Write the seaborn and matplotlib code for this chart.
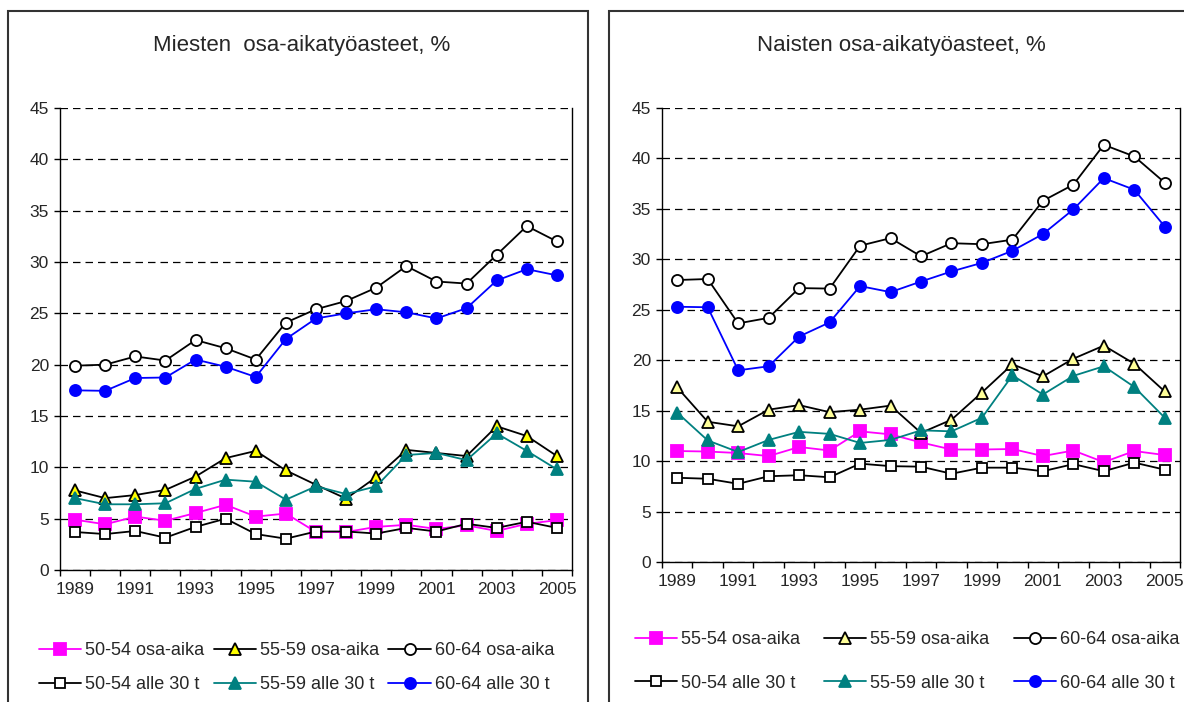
import seaborn as sns
import matplotlib.pyplot as plt
from matplotlib.patches import Rectangle
import pandas as pd

years = list(range(1989, 2006))

# miehet
m_50_osa = [4.9, 4.45, 5.2, 4.8, 5.55, 6.35, 5.2, 5.5, 3.7, 3.7, 4.2, 4.4, 4.0, 4.35, 3.8, 4.5, 4.85]
m_55_osa = [7.75, 7.0, 7.3, 7.8, 9.1, 10.9, 11.6, 9.7, 8.3, 6.95, 9.05, 11.7, 11.4, 11.1, 14.0, 13.05, 11.1]
m_60_osa = [19.9, 20.0, 20.8, 20.4, 22.4, 21.6, 20.5, 24.1, 25.4, 26.2, 27.5, 29.6, 28.1, 27.9, 30.7, 33.5, 32.0]
m_50_alle = [3.7, 3.5, 3.8, 3.15, 4.2, 5.0, 3.5, 3.05, 3.75, 3.75, 3.55, 4.1, 3.75, 4.5, 4.1, 4.7, 4.1]
m_55_alle = [7.0, 6.4, 6.4, 6.5, 7.9, 8.8, 8.6, 6.85, 8.15, 7.4, 8.15, 11.2, 11.4, 10.7, 13.3, 11.6, 9.8]
m_60_alle = [17.5, 17.45, 18.7, 18.75, 20.5, 19.8, 18.8, 22.5, 24.5, 25.0, 25.4, 25.1, 24.5, 25.5, 28.2, 29.3, 28.7]

# naiset
n_50_osa = [11.0, 10.95, 10.8, 10.5, 11.4, 11.05, 12.95, 12.65, 11.85, 11.15, 11.15, 11.2, 10.5, 11.05, 9.9, 11.0, 10.6]
n_55_osa = [17.3, 13.9, 13.45, 15.1, 15.55, 14.85, 15.1, 15.5, 12.8, 14.1, 16.8, 19.6, 18.4, 20.15, 21.45, 19.65, 16.9]
n_60_osa = [27.95, 28.05, 23.65, 24.2, 27.15, 27.1, 31.35, 32.1, 30.3, 31.6, 31.5, 31.95, 35.8, 37.4, 41.35, 40.2, 37.6]
n_50_alle = [8.35, 8.25, 7.75, 8.5, 8.6, 8.4, 9.75, 9.5, 9.45, 8.75, 9.35, 9.35, 9.0, 9.7, 9.0, 9.85, 9.15]
n_55_alle = [14.8, 12.05, 10.9, 12.1, 12.9, 12.7, 11.8, 12.1, 13.05, 12.95, 14.3, 18.5, 16.6, 18.45, 19.4, 17.35, 14.3]
n_60_alle = [25.3, 25.25, 19.0, 19.4, 22.35, 23.75, 27.35, 26.75, 27.8, 28.8, 29.65, 30.85, 32.5, 34.95, 38.05, 36.9, 33.25]

men_labels = ['50-54 osa-aika', '55-59 osa-aika', '60-64 osa-aika',
              '50-54 alle 30 t', '55-59 alle 30 t', '60-64 alle 30 t']
women_labels = ['55-54 osa-aika', '55-59 osa-aika', '60-64 osa-aika',
                '50-54 alle 30 t', '55-59 alle 30 t', '60-64 alle 30 t']

sns.set_style('white')
plt.rcParams['font.family'] = ['Liberation Sans', 'DejaVu Sans']


def styles(tri_yellow):
    # (viivan väri, merkki, täyttö, reuna, koko)
    return [
        ('#FF00FF', 's', '#FF00FF', '#FF00FF', 8),
        ('black', '^', tri_yellow, 'black', 8.5),
        ('black', 'o', 'white', 'black', 8),
        ('black', 's', 'white', 'black', 7.5),
        ('#008080', '^', '#008080', '#008080', 8.5),
        ('#0000FF', 'o', '#0000FF', '#0000FF', 8),
    ]


def draw_panel(ax, series, labels, tri_yellow):
    handles = []
    for vals, lab, (c, m, fc, ec, ms) in zip(series, labels, styles(tri_yellow)):
        df = pd.DataFrame({'vuosi': years, 'arvo': vals})
        sns.lineplot(data=df, x='vuosi', y='arvo', ax=ax, color=c, lw=1.3,
                     marker=m, markersize=ms, markerfacecolor=fc,
                     markeredgecolor=ec, markeredgewidth=1.3, label=lab)
        handles.append(ax.lines[-1])
    ax.get_legend().remove()

    ax.set_xlim(1988.5, 2005.5)
    ax.set_ylim(0, 45)
    ax.set_yticks(range(0, 46, 5))
    ax.set_xticks(range(1989, 2006, 2))
    ax.set_xticks([y - 0.5 for y in range(1989, 2007)], minor=True)
    ax.tick_params(axis='x', which='major', length=0, pad=9, labelsize=12.5)
    ax.tick_params(axis='x', which='minor', length=4, width=1, color='black',
                   direction='out', bottom=True)
    ax.tick_params(axis='y', length=4, width=1, color='black', direction='out',
                   left=True, pad=4, labelsize=12.5)
    ax.set_xlabel('')
    ax.set_ylabel('')
    ax.grid(axis='y', color='black', lw=0.9, linestyle=(0, (6, 4)))
    ax.set_axisbelow(True)
    ax.spines['top'].set_visible(False)
    for s in ['left', 'bottom', 'right']:
        ax.spines[s].set_color('black')
        ax.spines[s].set_linewidth(1)
    return handles


fig = plt.figure(figsize=(11.84, 7.02), dpi=100)
W, H = 1184, 702

ax1 = fig.add_axes([60 / W, 1 - 570 / H, 512 / W, 462 / H])
ax2 = fig.add_axes([662 / W, 1 - 562 / H, 518 / W, 454 / H])

h1 = draw_panel(ax1, [m_50_osa, m_55_osa, m_60_osa, m_50_alle, m_55_alle, m_60_alle],
                men_labels, '#FFFF00')
h2 = draw_panel(ax2, [n_50_osa, n_55_osa, n_60_osa, n_50_alle, n_55_alle, n_60_alle],
                women_labels, '#FFFF99')

order = [0, 3, 1, 4, 2, 5]
ax1.legend([h1[i] for i in order], [men_labels[i] for i in order], ncol=3,
           loc='center left', bbox_to_anchor=(39 / W, 1 - 667.5 / H),
           bbox_transform=fig.transFigure, frameon=False, fontsize=13,
           handlelength=2.33, handletextpad=0.22, columnspacing=0.53,
           labelspacing=0.95, borderpad=0, borderaxespad=0)
ax2.legend([h2[i] for i in order], [women_labels[i] for i in order], ncol=3,
           loc='center left', bbox_to_anchor=(635 / W, 1 - 661.5 / H),
           bbox_transform=fig.transFigure, frameon=False, fontsize=13,
           handlelength=2.33, handletextpad=0.22, columnspacing=1.35,
           labelspacing=1.45, borderpad=0, borderaxespad=0)

fig.text(302 / W, 1 - 46 / H, 'Miesten  osa-aikatyöasteet, %', ha='center',
         va='center', fontsize=16)
fig.text(901 / W, 1 - 46 / H, 'Naisten osa-aikatyöasteet, %', ha='center',
         va='center', fontsize=16)

# kehykset kuvioiden ympärille
fig.patches.append(Rectangle((8 / W, -0.1), 580 / W, 1.1 - 11 / H, fill=False,
                             lw=1.5, edgecolor='#333333',
                             transform=fig.transFigure, figure=fig))
fig.patches.append(Rectangle((609 / W, -0.1), 0.6, 1.1 - 11 / H, fill=False,
                             lw=1.5, edgecolor='#333333',
                             transform=fig.transFigure, figure=fig))

plt.savefig('out.png', dpi=100)
